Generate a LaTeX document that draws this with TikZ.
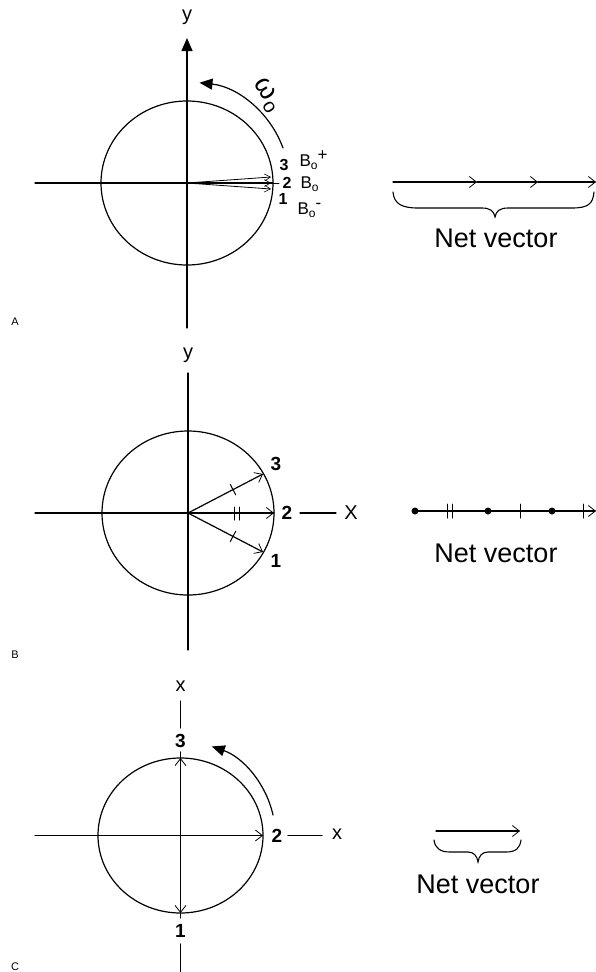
\documentclass[tikz,border=0pt]{standalone}
\usepackage{fontspec}
\setmainfont{Liberation Sans}
\usetikzlibrary{arrows.meta}
\begin{document}
\begin{tikzpicture}[x=1pt,y=-1pt,line width=1.2pt,line cap=round,
  vec/.style={-{Straight Barb[length=7pt,width=11pt,line width=0.8pt]}},
  vecs/.style={line width=0.8pt,-{Straight Barb[length=6pt,width=7pt,line width=0.6pt]}},
  fillhead/.style={-{Triangle[length=13pt,width=11pt]}},
  lbl/.style={inner sep=0pt,font=\fontsize{20}{22}\selectfont},
  num/.style={inner sep=0pt,font=\fontsize{19}{21}\selectfont\bfseries},
  numa/.style={inner sep=0pt,font=\fontsize{16}{17}\selectfont\bfseries},
  bsym/.style={inner sep=0pt,font=\fontsize{17}{18}\selectfont},
  netlbl/.style={inner sep=0pt,font=\fontsize{27}{29}\selectfont},
  panel/.style={inner sep=0pt,font=\fontsize{11}{12}\selectfont},
  dot/.style={circle,fill,inner sep=0pt,minimum size=7pt}]
\useasboundingbox (0,0) rectangle (595,972);

% ---------------- Panel A ----------------
\coordinate (OA) at (187,183);
\draw (OA) ellipse [x radius=86, y radius=82];
\coordinate (yAbot) at (187,328);
\coordinate (yAtop) at (187,38);
\draw[fillhead] (yAbot) -- (yAtop);
\node[lbl] (yA) at (187,17) {y};
\coordinate (xAl) at (35,183);
\coordinate (xAr) at (273,183);
\draw (xAl) -- (xAr);
\coordinate (A3) at (271,177);
\coordinate (A2) at (271,183);
\coordinate (A1) at (271,189);
\draw[vecs] (OA) -- (A3);
\draw[vecs] (OA) -- (A2);
\draw[vecs] (OA) -- (A1);
\coordinate (dashA) at (279,183);
\draw[line width=0.9pt] (xAr) -- (dashA);
\node[numa] (nA3) at (284,165) {3};
\node[numa] (nA2) at (287,183) {2};
\node[numa] (nA1) at (283,199) {1};
\node[bsym,anchor=west] (BAp) at (299,160) {B\raisebox{-3pt}{\fontsize{12}{12}\selectfont o}\raisebox{6pt}{+}};
\node[bsym,anchor=west] (BA0) at (300,184) {B\raisebox{-3pt}{\fontsize{12}{12}\selectfont o}};
\node[bsym,anchor=west] (BAm) at (297,210) {B\raisebox{-3pt}{\fontsize{12}{12}\selectfont o}\raisebox{6pt}{-}};
\coordinate (omA) at (283,148);
\draw[fillhead] (omA) arc[start angle=-20, end angle=-84, radius=100];
\node[inner sep=0pt,rotate=-58,font=\fontsize{28}{30}\selectfont] (omega) at (267,95) {ω\kern1pt\raisebox{-5pt}{\fontsize{20}{20}\selectfont o}};
\node[panel] (pA) at (15,322) {A};

% Net vector A
\coordinate (nvA0) at (393,182);
\coordinate (nvA1) at (477,182);
\coordinate (nvA2) at (538,182);
\coordinate (nvA3) at (596,182);
\draw[vec] (nvA0) -- (nvA1);
\draw[vec] (nvA1) -- (nvA2);
\draw[vec] (nvA2) -- (nvA3);
\draw[line width=1.1pt] (393,192) .. controls (394,204) and (402,208) .. (418,208) -- (482,208)
  .. controls (490,208) and (494,211) .. (495,217) .. controls (496,211) and (500,208) .. (508,208)
  -- (572,208) .. controls (588,208) and (593,204) .. (594,192);
\node[netlbl] (netA) at (496,238) {Net vector};

% ---------------- Panel B ----------------
\coordinate (OB) at (188,513);
\draw (OB) ellipse [x radius=86, y radius=82];
\coordinate (yBtop) at (188,373);
\coordinate (yBbot) at (188,650);
\draw (yBbot) -- (yBtop);
\node[lbl] (yB) at (188,355) {y};
\coordinate (xBl) at (35,513);
\coordinate (xBr) at (274,513);
\draw (xBl) -- (xBr);
\node[num] (nB2) at (287,513) {2};
\coordinate (xB2a) at (300,513);
\coordinate (xB2b) at (336,513);
\draw (xB2a) -- (xB2b);
\node[lbl] (XB) at (351,513) {X};
\coordinate (B3) at (263,474);
\coordinate (B1) at (263,552);
\draw[vec] (OB) -- (B3);
\draw[vec] (OB) -- (xBr);
\draw[vec] (OB) -- (B1);
\node[num] (nB3) at (276,464) {3};
\node[num] (nB1) at (276,561) {1};
% ticks
\draw[line width=1pt] (235.8,494.9) -- (230.2,484.3);
\draw[line width=1pt] (230.2,541.7) -- (235.8,531.1);
\draw[line width=1pt] (234,507) -- (234,520);
\draw[line width=1pt] (239,507) -- (239,520);
\node[panel] (pB) at (15,655) {B};

% Net vector B
\coordinate (nvB0) at (415,511);
\coordinate (nvB1) at (596,511);
\draw[vec] (nvB0) -- (nvB1);
\node[dot] (dB1) at (415,511) {};
\node[dot] (dB2) at (488,511) {};
\node[dot] (dB3) at (552,511) {};
\draw[line width=1pt] (447,504) -- (447,518);
\draw[line width=1pt] (452,504) -- (452,518);
\draw[line width=1pt] (520,504) -- (520,518);
\draw[line width=1pt] (583,504) -- (583,518);
\node[netlbl] (netB) at (496,553) {Net vector};

% ---------------- Panel C ----------------
\coordinate (OC) at (180.5,835.5);
\draw (OC) ellipse [x radius=82.5, y radius=77.5];
\coordinate (xCl) at (35,835.5);
\coordinate (xCr) at (263,835.5);
\draw (xCl) -- (OC);
\draw[vec] (OC) -- (xCr);
\node[num] (nC2) at (277,836) {2};
\coordinate (xC2a) at (288,835.5);
\coordinate (xC2b) at (322,835.5);
\draw (xC2a) -- (xC2b);
\node[lbl] (xC) at (337,834) {x};
\node[lbl] (xCtop) at (180.5,686) {x};
\coordinate (vC1) at (180.5,701);
\coordinate (vC2) at (180.5,728);
\draw (vC1) -- (vC2);
\node[num] (nC3) at (180.5,741) {3};
\coordinate (C3) at (180.5,758);
\coordinate (C1) at (180.5,913);
\draw (180.5,752) -- (C3);
\draw[vec] (OC) -- (C3);
\draw[vec] (OC) -- (C1);
\draw (C1) -- (180.5,918);
\node[num] (nC1) at (180.5,931) {1};
\coordinate (vC3) at (180.5,944);
\coordinate (vC4) at (180.5,972);
\draw (vC3) -- (vC4);
\coordinate (omC) at (273,815);
\draw[fillhead] (omC) arc[start angle=-12.5, end angle=-71, radius=94];
\node[panel] (pC) at (15,967) {C};

% Net vector C
\coordinate (nvC0) at (436,831);
\coordinate (nvC1) at (520,831);
\draw[vec] (nvC0) -- (nvC1);
\draw[line width=1.1pt] (434,840) .. controls (435,848) and (440,852) .. (450,852) -- (468,852)
  .. controls (474,852) and (477,856) .. (478,862) .. controls (479,856) and (482,852) .. (488,852)
  -- (506,852) .. controls (516,852) and (520,848) .. (521,840);
\node[netlbl] (netC) at (478,884) {Net vector};
\end{tikzpicture}
\end{document}
